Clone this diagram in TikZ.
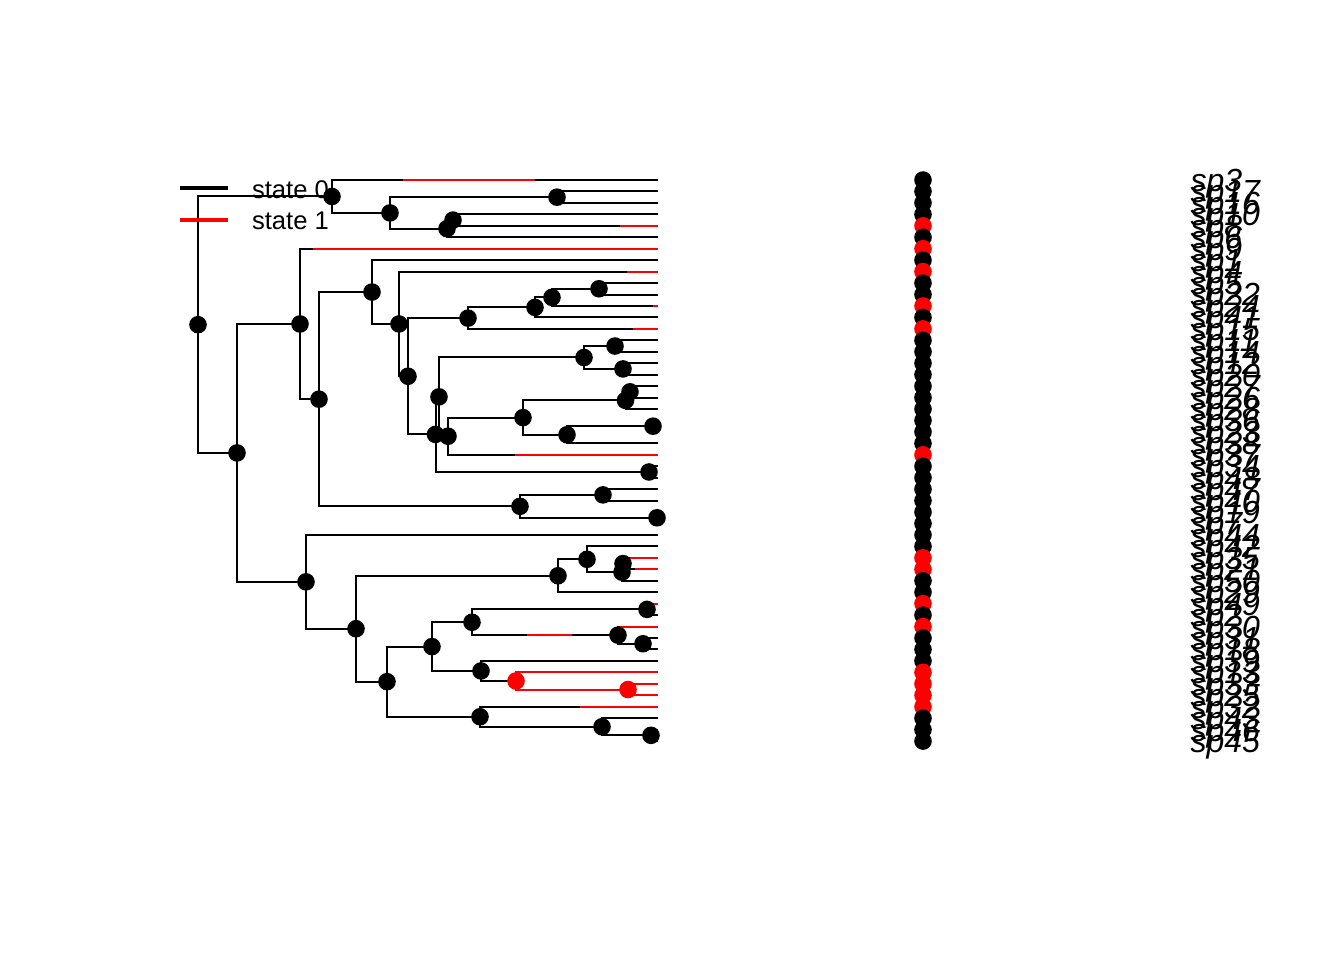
\documentclass[tikz,border=0pt]{standalone}
\usepackage{fontspec}
\setmainfont{Liberation Sans}
\usepackage{tikz}
\usetikzlibrary{calc}

\begin{document}
\begin{tikzpicture}[x=0.375pt,y=-0.375pt,
		branch/.style={line width=0.75pt},
		stateone/.style={red,line width=0.75pt},
		nodedot/.style={circle,fill=black,inner sep=0pt,minimum size=6.6pt},
		tiplabel/.style={anchor=west,inner sep=0pt,text height=8.6pt,text depth=0pt,font=\fontsize{12}{14}\selectfont\itshape},
		legline/.style={line width=1.5pt},
		legtext/.style={anchor=west,inner sep=0pt,text height=6.9pt,text depth=0pt,font=\fontsize{9.6}{11}\selectfont}]
		\useasboundingbox (0,0) rectangle (1344,960);

		% tips
		\foreach \name/\col [count=\i] in {sp3/black,sp17/black,sp16/black,sp10/black,sp8/red,sp6/black,sp9/red,sp1/black,sp4/red,sp5/black,
			sp22/black,sp24/red,sp41/black,sp15/red,sp11/black,sp14/black,sp12/black,sp20/black,sp27/black,sp26/black,
			sp28/black,sp36/black,sp23/black,sp38/black,sp37/red,sp34/black,sp48/black,sp47/black,sp40/black,sp19/black,
			sp7/black,sp44/black,sp42/black,sp35/red,sp21/red,sp50/black,sp29/black,sp49/red,sp2/black,sp30/red,
			sp31/black,sp18/black,sp39/black,sp13/red,sp33/red,sp25/red,sp32/red,sp43/black,sp46/black,sp45/black}{
			\coordinate (t\i) at (658,{180+(\i-1)*11.45});
			\node[nodedot,fill=\col] (d\i) at (923,{180+(\i-1)*11.45}) {};
			\node[tiplabel] (l\i) at (1190,{180+(\i-1)*11.45}) {\name};
		}

		% internal nodes
		\coordinate (root) at (198,324.68);
		\coordinate (nA) at (332,196.46);
		\coordinate (nB) at (390,212.92);
		\coordinate (nC) at (557,197.18);
		\coordinate (nD) at (447,228.66);
		\coordinate (nE) at (453,220.08);
		\coordinate (nF) at (237,452.89);
		\coordinate (nG) at (300,323.94);
		\coordinate (nH) at (319,399.18);
		\coordinate (nI) at (372,292.04);
		\coordinate (nK) at (399,323.93);
		\coordinate (nM) at (408,376.27);
		\coordinate (nN) at (468,318.12);
		\coordinate (nP) at (535,307.38);
		\coordinate (nQ) at (552,297.36);
		\coordinate (nR) at (599,288.78);
		\coordinate (nO) at (435.5,434.41);
		\coordinate (nS) at (439,396.84);
		\coordinate (nV) at (584,357.48);
		\coordinate (nW) at (615,346.03);
		\coordinate (nX) at (623,368.93);
		\coordinate (nU) at (448,436.19);
		\coordinate (nY) at (523,417.59);
		\coordinate (nZ) at (625.5,400.41);
		\coordinate (nAB) at (630,391.83);
		\coordinate (nAA) at (567,434.76);
		\coordinate (nAC) at (653,426.18);
		\coordinate (nT) at (649,471.98);
		\coordinate (nJ) at (520,506.33);
		\coordinate (nAD) at (603,494.88);
		\coordinate (nAE) at (657,517.78);
		\coordinate (nAF) at (306,581.83);
		\coordinate (nAG) at (356,628.7);
		\coordinate (nAH) at (558,575.74);
		\coordinate (nAJ) at (587,559.28);
		\coordinate (nAK) at (622,572.16);
		\coordinate (nAL) at (623,563.58);
		\coordinate (nAI) at (387,681.66);
		\coordinate (nAM) at (432,646.59);
		\coordinate (nAO) at (472,622.26);
		\coordinate (nAQ) at (647,609.38);
		\coordinate (nAR) at (618,635.14);
		\coordinate (nAS) at (643,643.73);
		\coordinate (nAP) at (481,670.92);
		\coordinate (nAT) at (516,680.94);
		\coordinate (nAU) at (628,689.53);
		\coordinate (nAN) at (480,716.72);
		\coordinate (nAV) at (602,726.74);
		\coordinate (nAW) at (651,735.33);

		% branches
		\foreach \p/\c in {root/nA,root/nF,nA/t1,nA/nB,nB/nC,nB/nD,nC/t2,nC/t3,nD/nE,nD/t6,nE/t4,nE/t5,
			nF/nG,nF/nAF,nG/t7,nG/nH,nH/nI,nH/nJ,nI/t8,nI/nK,nK/t9,nK/nM,nM/nN,nM/nO,
			nN/nP,nN/t14,nP/nQ,nP/t13,nQ/nR,nQ/t12,nR/t10,nR/t11,
			nO/nS,nO/nT,nS/nV,nS/nU,nV/nW,nV/nX,nW/t15,nW/t16,nX/t17,nX/t18,
			nU/nY,nU/t25,nY/nZ,nY/nAA,nZ/nAB,nZ/t21,nAB/t19,nAB/t20,nAA/nAC,nAA/t24,nAC/t22,nAC/t23,
			nT/t26,nT/t27,nJ/nAD,nJ/nAE,nAD/t28,nAD/t29,nAE/t30,nAE/t31,
			nAF/t32,nAF/nAG,nAG/nAH,nAG/nAI,nAH/nAJ,nAH/t37,nAJ/t33,nAJ/nAK,nAK/nAL,nAK/t36,nAL/t34,nAL/t35,
			nAI/nAM,nAI/nAN,nAM/nAO,nAM/nAP,nAO/nAQ,nAO/nAR,nAQ/t38,nAQ/t39,nAR/t40,nAR/nAS,nAS/t41,nAS/t42,
			nAP/t43,nAP/nAT,nAT/t44,nAT/nAU,nAU/t45,nAU/t46,nAN/t47,nAN/nAV,nAV/t48,nAV/nAW,nAW/t49,nAW/t50}
			\draw[branch] (\p) |- (\c);

		% state 1 along the branches
		\foreach \t/\a/\b in {1/403/535,5/620/658,7/313/658,9/627/658,12/653/658,14/633/658,25/515/658,
			34/630/658,35/635/658,38/653/658,40/620/658,47/580/658}
			\draw[stateone] (\a,0 |- t\t) -- (\b,0 |- t\t);
		\draw[stateone] (527,0 |- nAR) -- (572,0 |- nAR);
		\foreach \p/\c in {nAT/t44,nAT/nAU,nAU/t45,nAU/t46}
			\draw[stateone] (\p) |- (\c);

		% node states
		\foreach \n in {root,nA,nB,nC,nD,nE,nF,nG,nH,nI,nK,nM,nN,nP,nQ,nR,nO,nS,nV,nW,nX,nU,nY,nZ,nAB,nAA,nAC,nT,
			nJ,nAD,nAE,nAF,nAG,nAH,nAJ,nAK,nAL,nAI,nAM,nAO,nAQ,nAR,nAS,nAP,nAN,nAV,nAW}
			\node[nodedot] (d\n) at (\n) {};
		\node[nodedot,fill=red] (dnAT) at (nAT) {};
		\node[nodedot,fill=red] (dnAU) at (nAU) {};

		% legend
		\coordinate (k0) at (180,188);
		\coordinate (k1) at (180,220);
		\draw[legline] (k0) -- +(48,0) node[legtext,black] (s0) at +(70,1) {state 0};
		\draw[legline,red] (k1) -- +(48,0) node[legtext,black] (s1) at +(70,0) {state 1};

	\end{tikzpicture}
\end{document}
